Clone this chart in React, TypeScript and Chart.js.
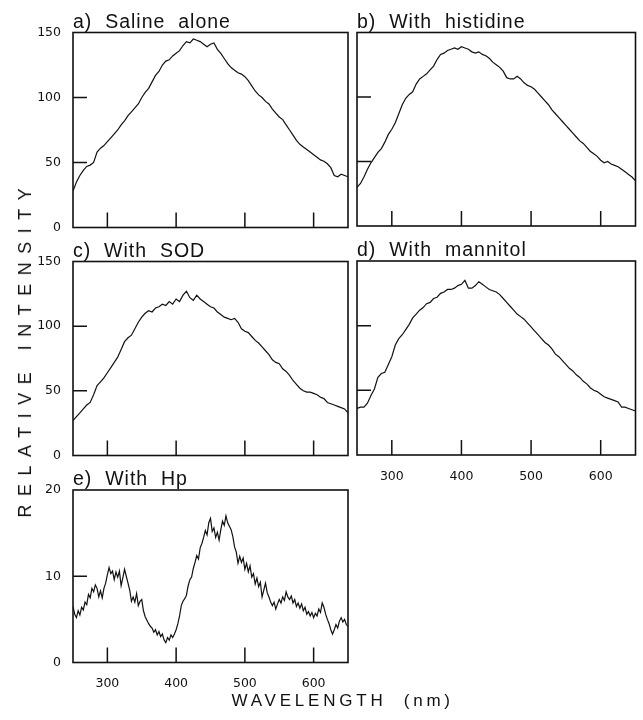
import React, { useEffect, useRef } from "react";
import { Chart, registerables } from "chart.js";

Chart.register(...registerables);

// ---------------- data ----------------
const wavelengths = [
  250, 255, 260, 265, 270, 275, 280, 285, 290, 295,
  300, 305, 310, 315, 320, 325, 330, 335, 340, 345,
  350, 355, 360, 365, 370, 375, 380, 385, 390, 395,
  400, 405, 410, 415, 420, 425, 430, 435, 440, 445,
  450, 455, 460, 465, 470, 475, 480, 485, 490, 495,
  500, 505, 510, 515, 520, 525, 530, 535, 540, 545,
  550, 555, 560, 565, 570, 575, 580, 585, 590, 595,
  600, 605, 610, 615, 620, 625, 630, 635, 640, 645,
  650,
];

const salineAlone = [
  28, 35, 40, 44, 47, 48, 50, 58, 61, 63,
  66, 69, 72, 75, 79, 82, 86, 89, 92, 95,
  100, 104, 107, 112, 117, 120, 125, 128, 129, 132,
  134, 136, 140, 143, 142, 145, 144, 143, 141, 139,
  141, 142, 137, 134, 130, 126, 123, 121, 119, 118,
  116, 113, 109, 105, 102, 100, 97, 95, 91, 88,
  85, 83, 79, 75, 71, 67, 64, 62, 60, 58,
  56, 54, 52, 51, 49, 46, 40, 39, 41, 40,
  39,
];

const withHistidine = [
  30, 33, 38, 44, 49, 53, 57, 60, 65, 71,
  75, 80, 87, 94, 99, 102, 104, 110, 114, 116,
  118, 121, 124, 129, 133, 134, 136, 137, 138, 137,
  139, 138, 137, 135, 134, 135, 133, 132, 130, 127,
  125, 123, 120, 115, 114, 114, 116, 114, 111, 109,
  108, 106, 103, 100, 97, 94, 90, 87, 84, 81,
  78, 75, 72, 69, 66, 64, 61, 58, 56, 54,
  51, 49, 50, 48, 47, 46, 44, 42, 40, 38,
  35,
];

const withSOD = [
  27, 30, 33, 36, 39, 41, 47, 54, 57, 60,
  64, 68, 72, 76, 82, 88, 91, 93, 98, 103,
  107, 110, 112, 111, 114, 115, 117, 116, 119, 117,
  121, 119, 124, 127, 122, 120, 124, 121, 119, 117,
  115, 114, 111, 109, 107, 106, 105, 106, 103, 98,
  96, 95, 92, 89, 87, 84, 81, 78, 74, 72,
  71, 67, 65, 62, 58, 55, 52, 50, 49, 49,
  48, 47, 45, 44, 41, 40, 39, 38, 37, 36,
  33,
];

const withMannitol = [
  36, 37, 37, 40, 46, 51, 60, 63, 64, 70,
  76, 85, 90, 93, 97, 101, 106, 109, 112, 114,
  117, 118, 121, 122, 125, 126, 128, 128, 129, 131,
  132, 135, 129, 129, 131, 134, 132, 130, 128, 127,
  126, 124, 121, 118, 115, 112, 109, 107, 105, 102,
  99, 96, 93, 90, 87, 85, 82, 78, 76, 73,
  70, 67, 65, 62, 60, 57, 55, 52, 50, 49,
  47, 45, 44, 43, 42, 41, 37, 37, 36, 35,
  34,
];

// the Hp spectrum is noisier, so it is read at a finer wavelength step
const wavelengthsHp = [
  250, 252.5, 255, 257.5, 260, 262.5, 265, 267.5, 270, 272.5,
  275, 277.5, 280, 282.5, 285, 287.5, 290, 292.5, 295, 297.5,
  300, 302.5, 305, 307.5, 310, 312.5, 315, 317.5, 320, 322.5,
  325, 327.5, 330, 332.5, 335, 337.5, 340, 342.5, 345, 347.5,
  350, 352.5, 355, 357.5, 360, 362.5, 365, 367.5, 370, 372.5,
  375, 377.5, 380, 382.5, 385, 387.5, 390, 392.5, 395, 397.5,
  400, 402.5, 405, 407.5, 410, 412.5, 415, 417.5, 420, 422.5,
  425, 427.5, 430, 432.5, 435, 437.5, 440, 442.5, 445, 447.5,
  450, 452.5, 455, 457.5, 460, 462.5, 465, 467.5, 470, 472.5,
  475, 477.5, 480, 482.5, 485, 487.5, 490, 492.5, 495, 497.5,
  500, 502.5, 505, 507.5, 510, 512.5, 515, 517.5, 520, 522.5,
  525, 527.5, 530, 532.5, 535, 537.5, 540, 542.5, 545, 547.5,
  550, 552.5, 555, 557.5, 560, 562.5, 565, 567.5, 570, 572.5,
  575, 577.5, 580, 582.5, 585, 587.5, 590, 592.5, 595, 597.5,
  600, 602.5, 605, 607.5, 610, 612.5, 615, 617.5, 620, 622.5,
  625, 627.5, 630, 632.5, 635, 637.5, 640, 642.5, 645, 647.5,
  650,
];

const withHp = [
  6.5, 5.6, 5.2, 6.0, 5.5, 6.4, 6.1, 7.0, 6.7, 7.9,
  7.5, 8.6, 8.2, 9.0, 8.6, 7.6, 8.3, 7.5, 8.6, 9.2,
  10.2, 11.0, 10.3, 10.6, 9.6, 10.5, 9.9, 10.6, 8.9, 9.8,
  10.8, 10.0, 9.2, 8.4, 7.1, 7.6, 7.0, 8.0, 6.6, 7.1,
  7.3, 6.0, 5.3, 4.9, 4.5, 4.2, 4.0, 3.5, 3.8, 3.2,
  3.6, 3.0, 3.3, 2.6, 2.3, 2.9, 2.6, 3.2, 2.9, 3.3,
  3.8, 4.5, 5.4, 6.6, 7.1, 7.4, 7.8, 8.9, 9.6, 9.9,
  10.9, 11.6, 12.4, 12.0, 13.3, 13.8, 14.5, 15.3, 14.8, 16.2,
  16.7, 15.2, 15.6, 14.5, 15.1, 14.2, 15.4, 16.4, 15.9, 17.0,
  16.2, 15.8, 15.4, 14.6, 13.4, 12.8, 11.5, 12.3, 11.6, 12.1,
  10.8, 11.5, 10.5, 11.2, 9.9, 10.3, 9.1, 9.8, 8.8, 9.3,
  7.6, 8.4, 9.2, 8.1, 7.6, 7.0, 6.6, 7.0, 6.2, 6.8,
  7.3, 6.9, 7.6, 7.2, 8.2, 7.6, 7.3, 7.7, 6.9, 7.3,
  6.5, 6.9, 6.3, 6.8, 6.0, 6.4, 5.6, 5.9, 5.4, 5.8,
  5.2, 5.7, 5.4, 6.2, 5.8, 6.9, 6.4, 5.6, 5.0, 4.5,
  3.8, 3.3, 3.8, 4.4, 4.0, 4.8, 5.2, 4.7, 5.0, 4.4,
  4.2,
];

const xTickValues = [300, 400, 500, 600];
const yTicksMain = [0, 50, 100, 150];
const yTicksHp = [0, 10, 20];

const panelTitles = [
  "a)  Saline  alone",
  "b)  With  histidine",
  "c)  With  SOD",
  "d)  With  mannitol",
  "e)  With  Hp",
];

const yAxisTitle = "RELATIVE INTENSITY";
const xAxisTitle = "WAVELENGTH  (nm)";

// ---------------- styling / layout ----------------
const INK = "#111";
const TEXT_FONT = '"Liberation Sans", Arial, Helvetica, sans-serif';
const TICK_FONT = '"DejaVu Sans", "Liberation Sans", sans-serif';

type Panel = {
  title: string;
  xs: number[];
  values: number[];
  yTicks: number[];
  showY: boolean;
  showX: boolean;
  cx: number;
  cy: number;
  cw: number;
  ch: number;
  L: number;
  T: number;
  R: number;
  B: number;
};

const panels: Panel[] = [
  { title: panelTitles[0], xs: wavelengths, values: salineAlone, yTicks: yTicksMain, showY: true, showX: false,
    cx: 0, cy: 0, cw: 352, ch: 240, L: 73, T: 32.5, R: 348, B: 227.5 },
  { title: panelTitles[1], xs: wavelengths, values: withHistidine, yTicks: yTicksMain, showY: false, showX: false,
    cx: 352, cy: 0, cw: 291, ch: 240, L: 357, T: 32.5, R: 635.5, B: 226 },
  { title: panelTitles[2], xs: wavelengths, values: withSOD, yTicks: yTicksMain, showY: true, showX: false,
    cx: 0, cy: 240, cw: 352, ch: 230, L: 73, T: 261.5, R: 348, B: 455.5 },
  { title: panelTitles[3], xs: wavelengths, values: withMannitol, yTicks: yTicksMain, showY: false, showX: true,
    cx: 352, cy: 240, cw: 291, ch: 250, L: 357, T: 261, R: 635.5, B: 455 },
  { title: panelTitles[4], xs: wavelengthsHp, values: withHp, yTicks: yTicksHp, showY: true, showX: true,
    cx: 0, cy: 470, cw: 352, ch: 230, L: 73, T: 490, R: 348, B: 662.5 },
];

const decorPlugin = {
  id: "panelDecor",
  afterDraw(chart: any, _args: any, opts: any) {
    const { ctx, chartArea: a, scales } = chart;
    ctx.save();
    ctx.strokeStyle = INK;
    ctx.lineWidth = 1.6;
    ctx.strokeRect(a.left, a.top, a.right - a.left, a.bottom - a.top);
    ctx.lineWidth = 1.5;
    ctx.beginPath();
    scales.x.ticks.forEach((t: any) => {
      const px = scales.x.getPixelForValue(t.value);
      ctx.moveTo(px, a.bottom);
      ctx.lineTo(px, a.bottom - 15);
    });
    scales.y.ticks.forEach((t: any) => {
      if (t.value <= scales.y.min || t.value >= scales.y.max) return;
      const py = scales.y.getPixelForValue(t.value);
      ctx.moveTo(a.left, py);
      ctx.lineTo(a.left + 14, py);
    });
    ctx.stroke();
    ctx.fillStyle = INK;
    ctx.font = `19.5px ${TEXT_FONT}`;
    (ctx as any).letterSpacing = "1px";
    ctx.textAlign = "left";
    ctx.textBaseline = "alphabetic";
    ctx.fillText(opts.title, a.left, a.top - 5);
    ctx.restore();
  },
};

function PanelChart({ p }: { p: Panel }) {
  const ref = useRef<HTMLCanvasElement | null>(null);
  useEffect(() => {
    if (!ref.current) return;
    const yMax = p.yTicks[p.yTicks.length - 1];
    const chart = new Chart(ref.current, {
      type: "line",
      data: {
        datasets: [
          {
            data: p.xs.map((w, i) => ({ x: w, y: p.values[i] })),
            borderColor: INK,
            borderWidth: 1.2,
            pointRadius: 0,
            tension: 0,
            fill: false,
          },
        ],
      },
      options: {
        responsive: false,
        animation: false,
        devicePixelRatio: 1,
        layout: { padding: { left: 0, top: p.T - p.cy, right: p.cx + p.cw - p.R, bottom: 0 } },
        plugins: {
          legend: { display: false },
          tooltip: { enabled: false },
          title: { display: false },
          panelDecor: { title: p.title },
        } as any,
        scales: {
          x: {
            type: "linear",
            min: 250,
            max: 650,
            grid: { display: false },
            border: { display: false },
            afterBuildTicks: (s: any) => {
              s.ticks = xTickValues.map((v) => ({ value: v }));
            },
            ticks: {
              display: p.showX,
              font: { family: TICK_FONT, size: 12.5 },
              color: INK,
              padding: 6,
              maxRotation: 0,
              autoSkip: false,
            },
            afterFit: (s: any) => {
              s.height = p.cy + p.ch - p.B;
            },
          },
          y: {
            type: "linear",
            min: 0,
            max: yMax,
            grid: { display: false },
            border: { display: false },
            afterBuildTicks: (s: any) => {
              s.ticks = p.yTicks.map((v) => ({ value: v }));
            },
            ticks: {
              display: p.showY,
              font: { family: TICK_FONT, size: 12.5 },
              color: INK,
              padding: 4,
              autoSkip: false,
            },
            afterFit: (s: any) => {
              s.width = p.L - p.cx;
            },
          },
        },
      } as any,
      plugins: [decorPlugin as any],
    });
    return () => chart.destroy();
  }, [p]);
  return (
    <canvas
      ref={ref}
      width={p.cw}
      height={p.ch}
      style={{ position: "absolute", left: p.cx, top: p.cy, width: p.cw, height: p.ch }}
    />
  );
}

export default function App() {
  return (
    <div
      style={{
        position: "absolute",
        left: 0,
        top: 0,
        width: 643,
        height: 720,
        background: "#fff",
        overflow: "hidden",
      }}
    >
      {panels.map((p, i) => (
        <PanelChart key={i} p={p} />
      ))}
      <div
        style={{
          position: "absolute",
          left: 25,
          top: 352.5,
          transform: "translate(-50%, -50%) rotate(-90deg)",
          fontFamily: TEXT_FONT,
          fontSize: 18,
          lineHeight: "20px",
          letterSpacing: "8.5px",
          paddingLeft: "8.5px",
          whiteSpace: "pre",
          color: INK,
        }}
      >
        {yAxisTitle}
      </div>
      <div
        style={{
          position: "absolute",
          left: 231.5,
          top: 691,
          fontFamily: TEXT_FONT,
          fontSize: 17,
          lineHeight: "20px",
          letterSpacing: "3.8px",
          whiteSpace: "pre",
          color: INK,
        }}
      >
        {xAxisTitle}
      </div>
    </div>
  );
}
